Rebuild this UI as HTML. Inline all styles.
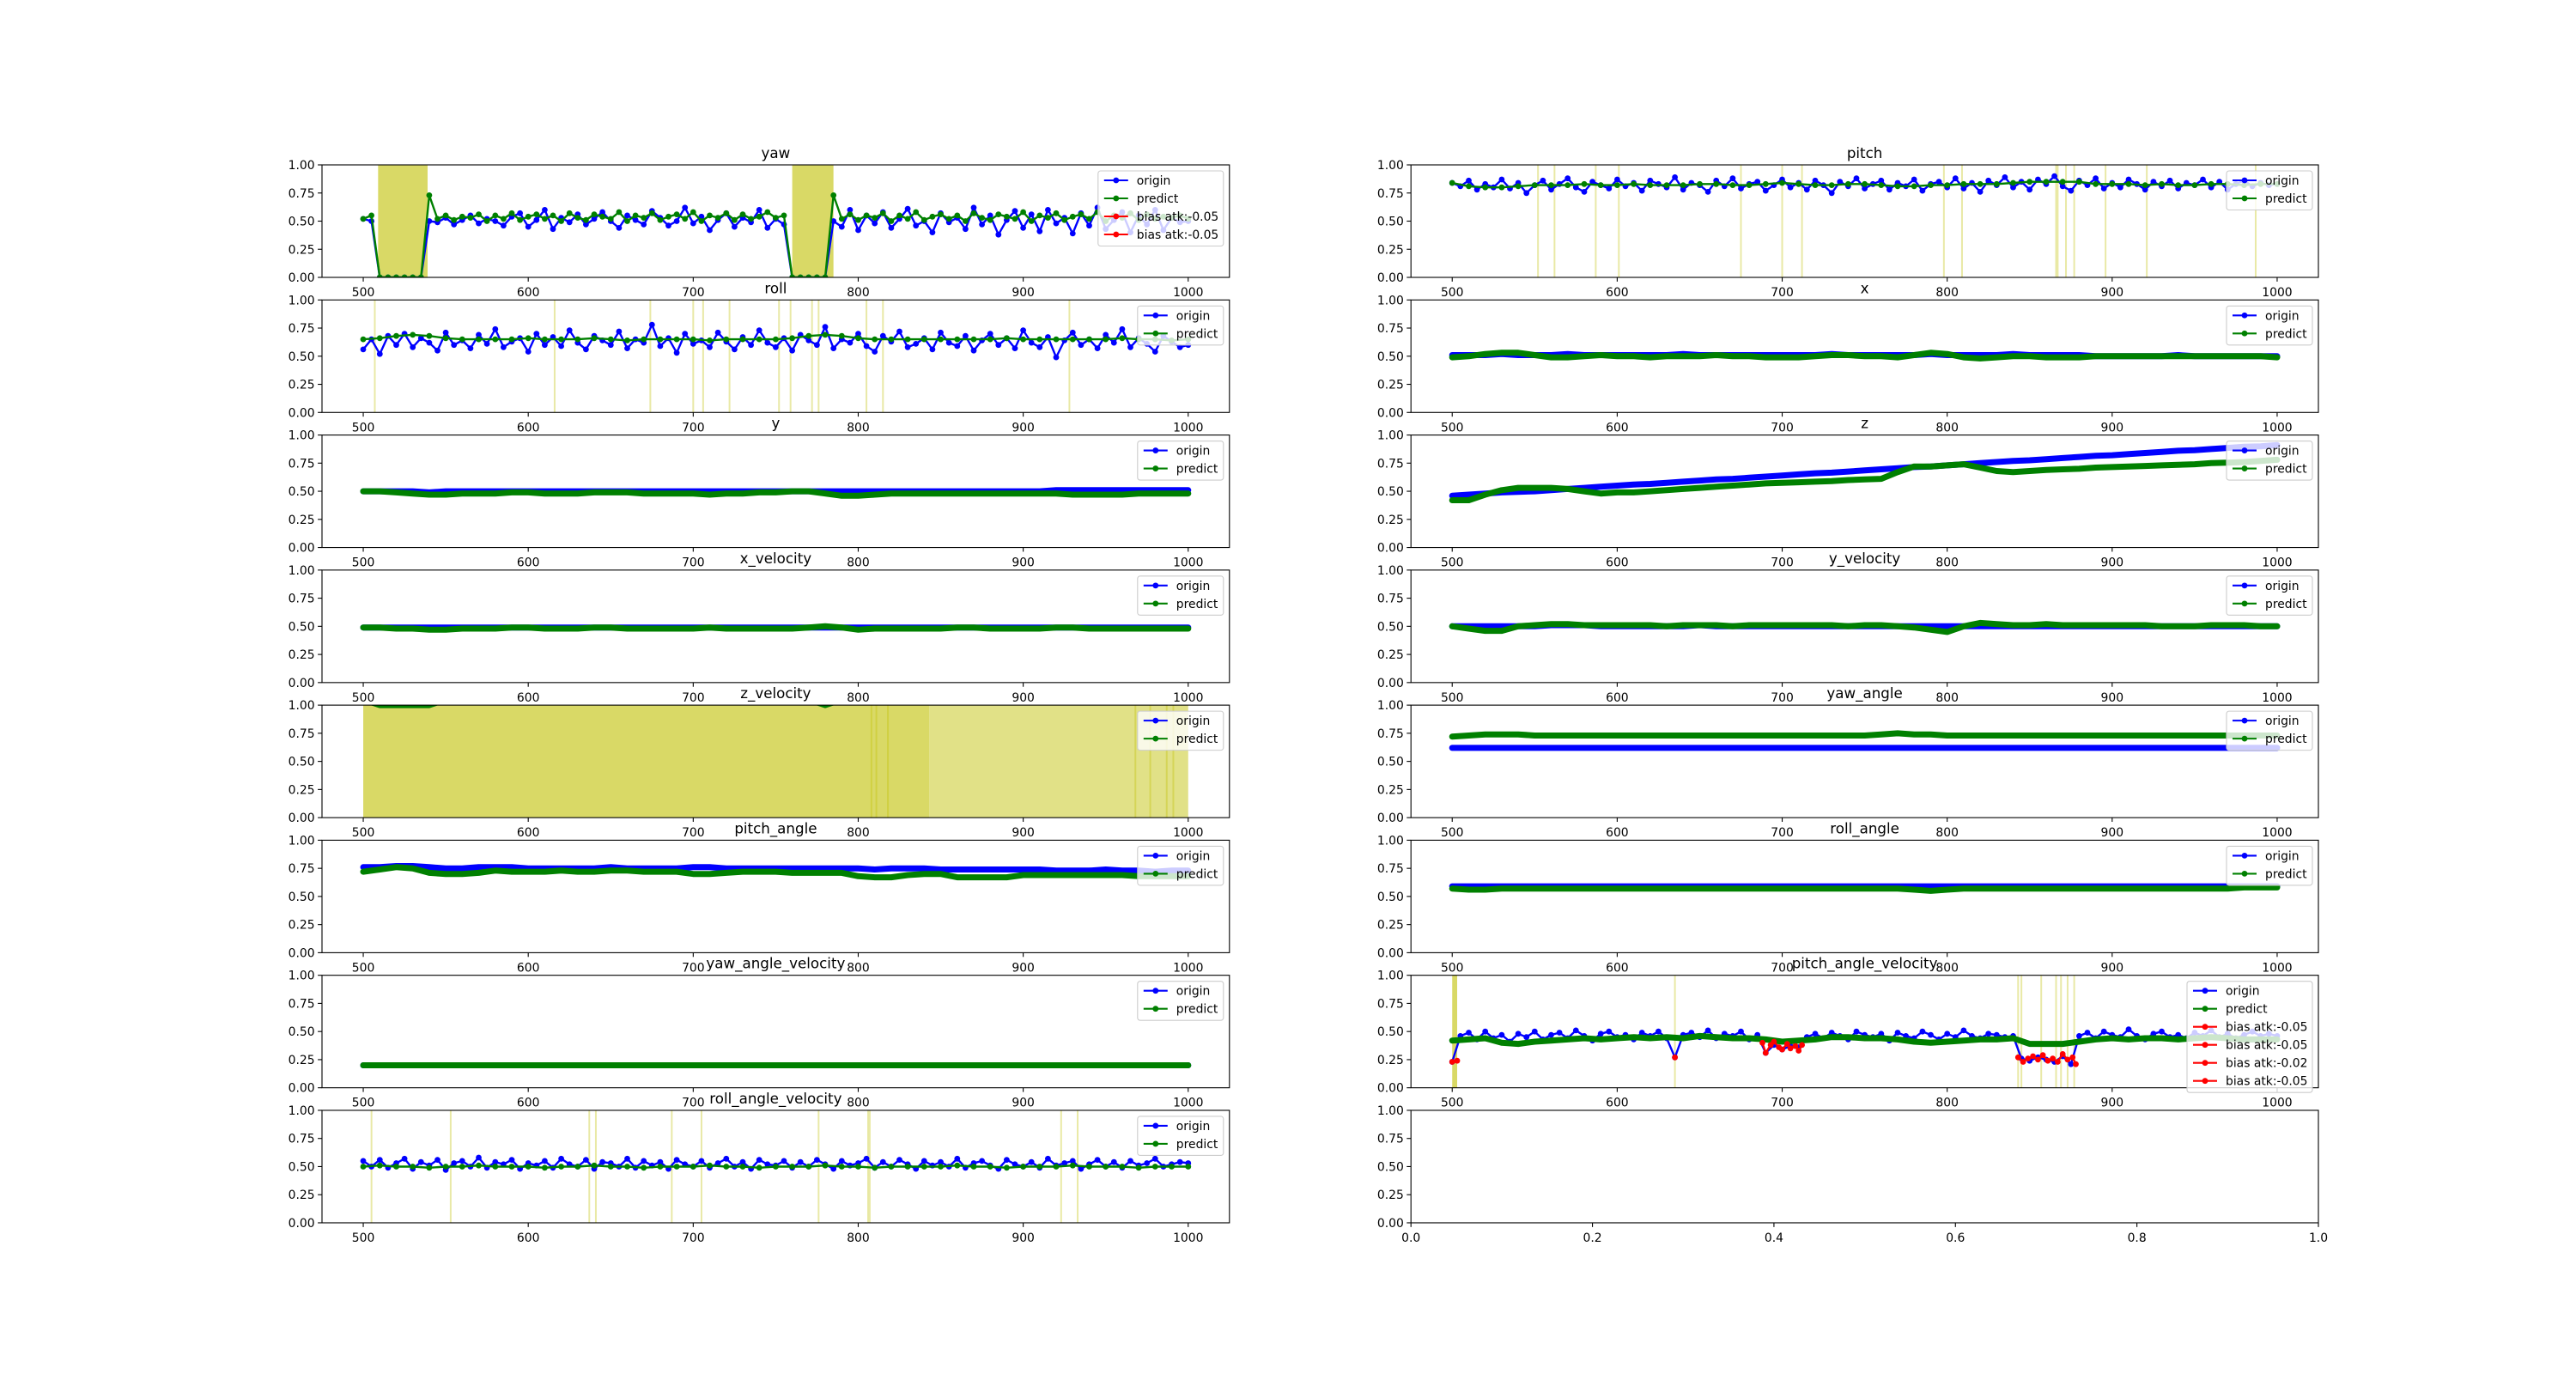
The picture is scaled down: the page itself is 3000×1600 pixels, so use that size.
<!DOCTYPE html>
<html><head><meta charset="utf-8"><title>attack plots</title>
<style>html,body{margin:0;padding:0;background:#fff}svg{display:block}text{font-family:"DejaVu Sans","Liberation Sans",sans-serif}</style>
</head><body>
<svg id="fig" width="3000" height="1600" viewBox="0 0 3000 1600" xmlns="http://www.w3.org/2000/svg"></svg>
<script>
// ---- data ----
const xTicks = [500,600,700,800,900,1000];
const yTicks = [0,0.25,0.5,0.75,1.0];
const yTickLabels = ["0.00","0.25","0.50","0.75","1.00"];
const emptyTicks = [0,0.2,0.4,0.6,0.8,1.0];
const emptyTickLabels = ["0.0","0.2","0.4","0.6","0.8","1.0"];

const yawOrigin = [0.52,0.50,0,0,0,0,0,0,0.50,
0.49,0.53,0.47,0.51,0.55,0.48,0.52,0.50,0.46,0.54,0.57,0.45,0.51,0.60,0.43,0.53,0.49,0.56,0.47,0.52,0.58,0.50,0.44,0.55,0.51,0.47,0.59,0.53,0.46,0.50,0.62,0.48,0.54,0.42,0.51,0.57,0.45,0.53,0.49,0.60,0.44,0.52,0.47,
0,0,0,0,0,
0.50,0.45,0.60,0.42,0.55,0.48,0.58,0.44,0.52,0.61,0.46,0.50,0.40,0.57,0.49,0.53,0.43,0.62,0.47,0.55,0.38,0.51,0.59,0.44,0.56,0.41,0.60,0.48,0.53,0.39,0.57,0.46,0.62,0.43,0.51,0.58,0.40,0.55,0.47,0.60,0.42,0.53,0.49,0.50];
const yawPredict = [0.52,0.55,0,0,0,0,0,0,0.73,
0.52,0.55,0.51,0.54,0.53,0.56,0.50,0.55,0.52,0.57,0.51,0.54,0.56,0.52,0.55,0.50,0.57,0.53,0.51,0.56,0.54,0.52,0.58,0.50,0.55,0.53,0.57,0.51,0.54,0.56,0.52,0.58,0.50,0.55,0.53,0.57,0.51,0.56,0.52,0.54,0.58,0.53,0.55,
0,0,0,0,0,
0.73,0.52,0.56,0.51,0.55,0.53,0.57,0.50,0.55,0.52,0.58,0.51,0.54,0.56,0.52,0.55,0.50,0.57,0.53,0.51,0.56,0.54,0.52,0.58,0.50,0.55,0.53,0.57,0.51,0.54,0.56,0.52,0.58,0.50,0.55,0.53,0.57,0.51,0.56,0.52,0.54,0.53,0.55,0.52];
const yawSpans = [[509,539],[760,785]];

const pitchOrigin = [.84,.81,.86,.78,.83,.80,.87,.79,.84,.75,.82,.86,.78,.83,.88,.80,.76,.85,.82,.79,.87,.81,.84,.77,.86,.83,.80,.89,.78,.84,.82,.76,.86,.81,.88,.79,.83,.85,.77,.82,.87,.80,.84,.78,.86,.82,.75,.85,.81,.88,.79,.83,.86,.78,.84,.81,.87,.77,.83,.85,.80,.88,.79,.84,.76,.86,.82,.89,.80,.85,.78,.87,.83,.90,.81,.77,.86,.82,.88,.79,.84,.80,.87,.83,.78,.85,.81,.86,.79,.84,.82,.87,.80,.85,.78,.83,.86,.81,.84,.82,.83];
const pitchPredict = [.84,.81,.80,.80,.81,.82,.82,.82,.83,.82,.82,.83,.82,.82,.82,.83,.83,.82,.82,.83,.84,.83,.82,.82,.83,.83,.82,.81,.81,.82,.82,.83,.83,.83,.84,.85,.85,.85,.85,.83,.83,.83,.82,.83,.82,.82,.83,.83,.82,.83,.83];
const pitchLines = [552,562,587,601,675,700,712,798,809,866,867,872,877,896,921,987];

const rollOrigin = [.56,.65,.52,.68,.60,.70,.58,.66,.62,.55,.71,.60,.64,.57,.69,.61,.74,.58,.63,.66,.54,.70,.60,.67,.59,.73,.62,.56,.68,.64,.60,.72,.57,.65,.62,.78,.59,.66,.53,.70,.61,.64,.58,.71,.63,.56,.67,.60,.73,.62,.58,.66,.55,.69,.64,.60,.76,.57,.65,.62,.70,.59,.54,.68,.63,.72,.58,.61,.66,.56,.71,.62,.59,.68,.55,.64,.70,.60,.66,.57,.73,.62,.58,.67,.49,.64,.71,.60,.65,.57,.69,.62,.74,.58,.66,.61,.54,.68,.63,.58,.60];
const rollPredict = [.65,.66,.68,.69,.68,.66,.65,.65,.65,.65,.66,.65,.65,.65,.66,.65,.64,.65,.65,.65,.65,.64,.65,.65,.65,.65,.66,.68,.69,.68,.66,.65,.65,.65,.65,.65,.65,.65,.65,.66,.65,.65,.65,.65,.65,.65,.66,.65,.65,.64,.65];
const rollLines = [507,616,674,700,706,722,752,759,772,776,805,815,928];

const xOrigin = [.51,.51,.51,.52,.51,.51,.51,.52,.51,.51,.51,.51,.51,.51,.52,.51,.51,.51,.51,.51,.51,.51,.51,.52,.51,.51,.51,.51,.51,.52,.51,.51,.51,.51,.52,.51,.51,.51,.51,.50,.50,.50,.50,.50,.51,.50,.50,.50,.50,.50,.50];
const xPredict = [.49,.50,.52,.53,.53,.51,.49,.49,.50,.51,.50,.50,.49,.50,.50,.50,.51,.50,.50,.49,.49,.49,.50,.51,.51,.50,.50,.49,.51,.53,.52,.49,.48,.49,.50,.50,.49,.49,.49,.50,.50,.50,.50,.50,.50,.50,.50,.50,.50,.50,.49];

const yOrigin = [.50,.50,.50,.50,.49,.50,.50,.50,.50,.50,.50,.50,.50,.50,.50,.50,.50,.50,.50,.50,.50,.50,.50,.50,.50,.50,.50,.50,.50,.50,.50,.50,.50,.50,.50,.50,.50,.50,.50,.50,.50,.50,.51,.51,.51,.51,.51,.51,.51,.51,.51];
const yPredict = [.50,.50,.49,.48,.47,.47,.48,.48,.48,.49,.49,.48,.48,.48,.49,.49,.49,.48,.48,.48,.48,.47,.48,.48,.49,.49,.50,.50,.48,.46,.46,.47,.48,.48,.48,.48,.48,.48,.48,.48,.48,.48,.48,.47,.47,.47,.47,.48,.48,.48,.48];

const zOrigin = [.46,.47,.48,.49,.495,.50,.51,.52,.53,.54,.55,.56,.565,.575,.585,.595,.605,.61,.62,.63,.64,.65,.66,.665,.675,.685,.695,.705,.715,.72,.73,.74,.75,.76,.77,.775,.785,.795,.805,.815,.82,.83,.84,.85,.86,.865,.875,.885,.895,.90,.91];
const zPredict = [.42,.42,.47,.51,.53,.53,.53,.52,.50,.48,.49,.49,.50,.51,.52,.53,.54,.55,.56,.57,.575,.58,.585,.59,.60,.605,.61,.67,.72,.72,.73,.74,.71,.68,.67,.68,.69,.695,.70,.71,.715,.72,.725,.73,.735,.74,.75,.755,.76,.77,.78];

const xvOrigin = [.49,.49,.49,.49,.49,.49,.49,.49,.49,.49,.49,.49,.49,.49,.49,.49,.49,.49,.49,.49,.49,.49,.49,.49,.49,.49,.49,.49,.49,.49,.49,.49,.49,.49,.49,.49,.49,.49,.49,.49,.49,.49,.49,.49,.49,.49,.49,.49,.49,.49,.49];
const xvPredict = [.49,.49,.48,.48,.47,.47,.48,.48,.48,.49,.49,.48,.48,.48,.49,.49,.48,.48,.48,.48,.48,.49,.48,.48,.48,.48,.48,.49,.50,.49,.47,.48,.48,.48,.48,.48,.49,.49,.48,.48,.48,.48,.49,.49,.48,.48,.48,.48,.48,.48,.48];

const yvOrigin = [.50,.50,.50,.50,.50,.50,.51,.51,.51,.50,.50,.50,.50,.50,.50,.51,.50,.50,.50,.50,.50,.50,.50,.50,.50,.50,.50,.50,.50,.50,.50,.50,.50,.50,.50,.50,.50,.50,.50,.50,.50,.50,.50,.50,.50,.50,.50,.50,.50,.50,.50];
const yvPredict = [.50,.48,.46,.46,.50,.51,.52,.52,.51,.51,.51,.51,.51,.50,.51,.51,.51,.50,.51,.51,.51,.51,.51,.51,.50,.51,.51,.50,.49,.47,.45,.50,.53,.52,.51,.51,.52,.51,.51,.51,.51,.51,.51,.50,.50,.50,.51,.51,.51,.50,.50];

const zvOrigin = [1.05,1.05,1.05,1.05,1.05,1.05,1.05,1.05,1.05,1.05,1.05,1.05,1.05,1.05,1.05,1.05,1.05,1.05,1.05,1.05,1.05,1.05,1.05,1.05,1.05,1.05,1.05,1.05,1.05,1.05,1.05,1.05,1.05,1.05,1.05,1.05,1.05,1.05,1.05,1.05,1.05,1.05,1.05,1.05,1.05,1.05,1.05,1.05,1.05,1.05,1.05];
const zvPredict = [1.05,1.00,1.00,1.00,1.00,1.05,1.05,1.05,1.05,1.05,1.05,1.05,1.05,1.05,1.05,1.05,1.05,1.05,1.05,1.05,1.05,1.05,1.05,1.05,1.05,1.05,1.05,1.05,1.00,1.05,1.05,1.05,1.05,1.05,1.05,1.05,1.05,1.05,1.05,1.05,1.05,1.05,1.05,1.05,1.05,1.05,1.05,1.05,1.05,1.05,1.05];
const zvSpans = [[500,843]];
const zvLightSpans = [[843,1000]];
const zvLines = [808,811,818,968,977,987,991];

const yaOrigin = [.62,.62,.62,.62,.62,.62,.62,.62,.62,.62,.62,.62,.62,.62,.62,.62,.62,.62,.62,.62,.62,.62,.62,.62,.62,.62,.62,.62,.62,.62,.62,.62,.62,.62,.62,.62,.62,.62,.62,.62,.62,.62,.62,.62,.62,.62,.62,.62,.62,.62,.62];
const yaPredict = [.72,.73,.74,.74,.74,.73,.73,.73,.73,.73,.73,.73,.73,.73,.73,.73,.73,.73,.73,.73,.73,.73,.73,.73,.73,.73,.74,.75,.74,.74,.73,.73,.73,.73,.73,.73,.73,.73,.73,.73,.73,.73,.73,.73,.73,.73,.73,.73,.73,.73,.73];

const paOrigin = [.76,.76,.77,.77,.76,.75,.75,.76,.76,.76,.75,.75,.75,.75,.75,.76,.75,.75,.75,.75,.76,.76,.75,.75,.75,.75,.75,.75,.75,.75,.75,.74,.75,.75,.75,.74,.74,.74,.74,.74,.74,.74,.73,.73,.73,.74,.73,.73,.72,.73,.73];
const paPredict = [.72,.74,.76,.75,.71,.70,.70,.71,.73,.72,.72,.72,.73,.72,.72,.73,.73,.72,.72,.72,.70,.70,.71,.72,.72,.72,.71,.71,.71,.71,.68,.67,.67,.69,.70,.70,.67,.67,.67,.67,.69,.69,.69,.69,.69,.69,.69,.68,.68,.68,.68];

const raOrigin = [.59,.59,.59,.59,.59,.59,.59,.59,.59,.59,.59,.59,.59,.59,.59,.59,.59,.59,.59,.59,.59,.59,.59,.59,.59,.59,.59,.59,.59,.59,.59,.59,.59,.59,.59,.59,.59,.59,.59,.59,.59,.59,.59,.59,.59,.59,.59,.59,.59,.59,.59];
const raPredict = [.57,.56,.56,.57,.57,.57,.57,.57,.57,.57,.57,.57,.57,.57,.57,.57,.57,.57,.57,.57,.57,.57,.57,.57,.57,.57,.57,.57,.56,.55,.56,.57,.57,.57,.57,.57,.57,.57,.57,.57,.57,.57,.57,.57,.57,.57,.57,.57,.58,.58,.58];

const yavOrigin = [.20,.20,.20,.20,.20,.20,.20,.20,.20,.20,.20,.20,.20,.20,.20,.20,.20,.20,.20,.20,.20,.20,.20,.20,.20,.20,.20,.20,.20,.20,.20,.20,.20,.20,.20,.20,.20,.20,.20,.20,.20,.20,.20,.20,.20,.20,.20,.20,.20,.20,.20];
const yavPredict = [.20,.20,.20,.20,.20,.20,.20,.20,.20,.20,.20,.20,.20,.20,.20,.20,.20,.20,.20,.20,.20,.20,.20,.20,.20,.20,.20,.20,.20,.20,.20,.20,.20,.20,.20,.20,.20,.20,.20,.20,.20,.20,.20,.20,.20,.20,.20,.20,.20,.20,.20];

const pavOrigin = [.23,.46,.49,.43,.50,.44,.47,.41,.48,.45,.50,.43,.47,.49,.44,.51,.46,.42,.48,.50,.45,.47,.43,.49,.46,.50,.44,.27,.47,.49,.45,.51,.44,.48,.46,.50,.43,.47,.31,.38,.34,.37,.36,.45,.48,.44,.49,.46,.43,.50,.47,.45,.48,.42,.49,.46,.44,.50,.47,.43,.48,.45,.51,.46,.44,.48,.47,.45,.46,.26,.24,.27,.25,.23,.28,.21,.46,.49,.44,.50,.47,.45,.52,.46,.43,.48,.50,.45,.47,.44,.49,.46,.51,.45,.48,.44,.47,.50,.46,.48,.46];
const pavPredict = [.42,.43,.44,.40,.39,.41,.42,.43,.44,.43,.44,.45,.44,.45,.44,.46,.45,.44,.44,.43,.41,.42,.43,.45,.45,.44,.44,.43,.41,.40,.41,.42,.43,.43,.44,.39,.39,.39,.41,.43,.44,.43,.44,.44,.43,.44,.45,.44,.43,.43,.43];
const atk1X = [500,503], atk1Y = [.23,.24];
const atk2X = [635], atk2Y = [.27];
const atk3X = [688,690,693,695,698,700,703,705,708,710,712];
const atk3Y = [.40,.31,.38,.41,.36,.34,.39,.35,.37,.33,.38];
const atk4X = [843,846,849,852,855,858,861,864,867,870,873,876,878];
const atk4Y = [.27,.23,.26,.28,.25,.29,.24,.26,.23,.30,.25,.27,.21];
const pavSpans = [[500,503]];
const pavLines = [635,843,845,857,866,869,873,877];

const ravOrigin = [.55,.50,.56,.49,.53,.57,.48,.54,.51,.56,.47,.53,.55,.50,.58,.49,.54,.52,.56,.48,.53,.51,.55,.49,.57,.52,.50,.56,.48,.54,.53,.50,.57,.49,.55,.51,.54,.48,.56,.52,.50,.55,.49,.53,.57,.50,.54,.48,.56,.52,.51,.55,.49,.54,.50,.56,.52,.48,.55,.51,.53,.57,.49,.54,.50,.56,.52,.48,.55,.51,.54,.50,.57,.49,.53,.55,.51,.48,.56,.52,.50,.54,.49,.57,.51,.53,.55,.48,.52,.56,.50,.54,.49,.55,.51,.53,.57,.50,.52,.54,.53];
const ravPredict = [.50,.51,.50,.50,.49,.50,.50,.51,.50,.50,.50,.49,.50,.50,.51,.50,.50,.49,.50,.50,.50,.51,.50,.50,.49,.50,.50,.50,.51,.50,.50,.49,.50,.50,.50,.50,.51,.50,.50,.49,.50,.50,.50,.51,.50,.50,.50,.49,.50,.50,.50];
const ravLines = [505,553,637,641,687,705,776,806,807,923,933];

// ---- layout ----
const NS = "http://www.w3.org/2000/svg";
const svg = document.getElementById("fig");
const COLL = [375, 1643.2], AXW = 1056.8, TOP0 = 192, ROWSTEP = 157.28, AXH = 131;
const XMIN = 475, XMAX = 1025;
function mk(tag, attrs, parent){ const e=document.createElementNS(NS,tag); for(const k in attrs) e.setAttribute(k,attrs[k]); (parent||svg).appendChild(e); return e; }
function seqX(n){ const a=[]; for(let i=0;i<n;i++) a.push(500 + i*500/(n-1)); return a; }

const panels = [
 {name:"yaw", col:0,row:0, o:yawOrigin, p:yawPredict, spans:yawSpans, dense:false, legend:["origin","predict","bias atk:-0.05","bias atk:-0.05"], lw:146},
 {name:"pitch", col:1,row:0, o:pitchOrigin, p:pitchPredict, lines:pitchLines, dense:false},
 {name:"roll", col:0,row:1, o:rollOrigin, p:rollPredict, lines:rollLines, dense:false},
 {name:"x", col:1,row:1, o:xOrigin, p:xPredict, dense:true},
 {name:"y", col:0,row:2, o:yOrigin, p:yPredict, dense:true},
 {name:"z", col:1,row:2, o:zOrigin, p:zPredict, dense:true},
 {name:"x_velocity", col:0,row:3, o:xvOrigin, p:xvPredict, dense:true},
 {name:"y_velocity", col:1,row:3, o:yvOrigin, p:yvPredict, dense:true},
 {name:"z_velocity", col:0,row:4, o:zvOrigin, p:zvPredict, spans:zvSpans, light:zvLightSpans, lines:zvLines, dense:true},
 {name:"yaw_angle", col:1,row:4, o:yaOrigin, p:yaPredict, dense:true},
 {name:"pitch_angle", col:0,row:5, o:paOrigin, p:paPredict, dense:true},
 {name:"roll_angle", col:1,row:5, o:raOrigin, p:raPredict, dense:true},
 {name:"yaw_angle_velocity", col:0,row:6, o:yavOrigin, p:yavPredict, dense:true},
 {name:"pitch_angle_velocity", col:1,row:6, o:pavOrigin, p:pavPredict, spans:pavSpans, lines:pavLines, dense:false, pDense:true,
   atk:[[atk1X,atk1Y],[atk2X,atk2Y],[atk3X,atk3Y],[atk4X,atk4Y]],
   legend:["origin","predict","bias atk:-0.05","bias atk:-0.05","bias atk:-0.02","bias atk:-0.05"], lw:146},
 {name:"roll_angle_velocity", col:0,row:7, o:ravOrigin, p:ravPredict, lines:ravLines, dense:false, pDense:false}
];

function drawSeries(g, xs, ys, color, dense, sx, sy, nm){
  const pts = xs.map((x,i)=>sx(x).toFixed(1)+","+sy(ys[i]).toFixed(1)).join(" ");
  const pl = mk("polyline",{points:pts,fill:"none",stroke:color,"stroke-width":dense?7:2.4,"stroke-linejoin":"round","stroke-linecap":"round"},g);
  
  
  if(!dense){
    xs.forEach((x,i)=>{ const c=mk("circle",{cx:sx(x).toFixed(1),cy:sy(ys[i]).toFixed(1),r:3.4,fill:color},g);
      
       });
  }
}

function drawAxes(P){
  const L = COLL[P.col], T = TOP0 + P.row*ROWSTEP, B = T + AXH, R = L + AXW;
  const xmin = P.empty?0:XMIN, xmax = P.empty?1:XMAX;
  const sx = v => L + (v-xmin)/(xmax-xmin)*AXW;
  const sy = v => B - v*AXH;
  const g = mk("g",{});
  
  
  const cid = "clip"+P.col+"_"+P.row;
  const cp = mk("clipPath",{id:cid},g); mk("rect",{x:L,y:T,width:AXW,height:AXH},cp);
  const pg = mk("g",{"clip-path":"url(#"+cid+")"},g);
  
  
  (P.spans||[]).forEach(s=>{ const r=mk("rect",{x:sx(s[0]),y:T,width:Math.max(2,sx(s[1])-sx(s[0])),height:AXH,fill:"rgb(191,191,0)","fill-opacity":0.6},pg);
      });
  (P.light||[]).forEach(s=>{ const r=mk("rect",{x:sx(s[0]),y:T,width:sx(s[1])-sx(s[0]),height:AXH,fill:"rgb(191,191,0)","fill-opacity":0.47},pg);
      });
  (P.lines||[]).forEach(v=>{ const r=mk("rect",{x:sx(v)-1,y:T,width:2,height:AXH,fill:"rgb(191,191,0)","fill-opacity":0.35},pg);
      });
  if(P.o){
    drawSeries(pg, seqX(P.o.length), P.o, "#0000ff", P.dense, sx, sy, "origin");
    drawSeries(pg, seqX(P.p.length), P.p, "#008000", P.pDense!==undefined?P.pDense:P.dense, sx, sy, "predict");
    (P.atk||[]).forEach(a=>drawSeries(pg, a[0], a[1], "#ff0000", false, sx, sy, "bias-atk"));
  }
  const sp = mk("rect",{x:L,y:T,width:AXW,height:AXH,fill:"none",stroke:"#000","stroke-width":1.1},g);
   
  yTicks.forEach((v,i)=>{ mk("line",{x1:L-4.9,x2:L,y1:sy(v),y2:sy(v),stroke:"#000","stroke-width":1.1},g);
    const t=mk("text",{x:L-8.4,y:sy(v)+5,"text-anchor":"end","font-size":"13.9px",fill:"#000"},g); t.textContent=yTickLabels[i];
      });
  const xt = P.empty?emptyTicks:xTicks, xl = P.empty?emptyTickLabels:xTicks.map(String);
  xt.forEach((v,i)=>{ mk("line",{x1:sx(v),x2:sx(v),y1:B,y2:B+4.9,stroke:"#000","stroke-width":1.1},g);
    const t=mk("text",{x:sx(v),y:B+22,"text-anchor":"middle","font-size":"13.9px",fill:"#000"},g); t.textContent=xl[i];
      });
  if(P.name){
    const t=mk("text",{x:L+AXW/2,y:T-8,"text-anchor":"middle","font-size":"16.7px",fill:"#000"},g); t.textContent=P.name;
     
  }
  if(P.o){
    const labels = P.legend || ["origin","predict"];
    const colors = ["#0000ff","#008000","#ff0000","#ff0000","#ff0000","#ff0000"];
    const w = P.lw || 100, h = 21*labels.length + 3.5;
    const lx = R - 7 - w, ly = T + 7;
    const lg = mk("g",{},g);
     
    mk("rect",{x:lx,y:ly,width:w,height:h,rx:3,fill:"#fff","fill-opacity":0.8,stroke:"#cccccc","stroke-width":1.1},lg);
    labels.forEach((lab,i)=>{
      const yy = ly + 11 + 21*i;
      const e = mk("g",{},lg);
       
      mk("line",{x1:lx+7,x2:lx+35,y1:yy,y2:yy,stroke:colors[i],"stroke-width":2.1},e);
      mk("circle",{cx:lx+21,cy:yy,r:3.4,fill:colors[i]},e);
      const t=mk("text",{x:lx+45,y:yy+5,"font-size":"13.9px",fill:"#000"},e); t.textContent=lab;
    });
  }
}
panels.forEach(drawAxes);
drawAxes({col:1,row:7,empty:true});
</script>
</body></html>
